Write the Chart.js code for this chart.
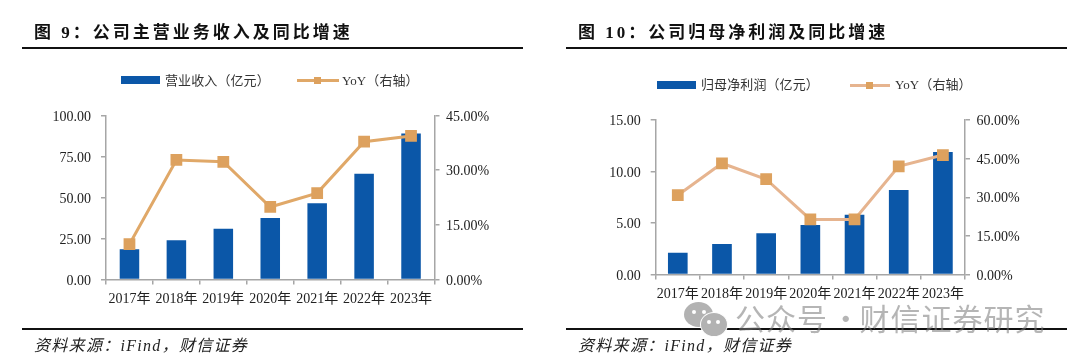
<!DOCTYPE html>
<html lang="zh-CN">
<head>
<meta charset="UTF-8" />
<title>公司营收与归母净利润</title>
<script src="https://cdn.jsdelivr.net/npm/chart.js"></script>
<style>
  html, body { margin: 0; padding: 0; background: #fff; }
  body { width: 1080px; height: 363px; position: relative; overflow: hidden; font-family: "Liberation Serif", "Noto Sans CJK SC", serif; color: #222; }
  canvas { position: absolute; top: 0; }
  .abs { position: absolute; white-space: nowrap; }
  .title { font-weight: 700; font-size: 17px; letter-spacing: 3px; line-height: 20px; color: #111; }
  .rule { height: 2px; background: #111; }
  .source { font-style: italic; font-size: 16px; line-height: 20px; letter-spacing: 1.3px; color: #222; }
  .swatch { height: 8px; background: #0B57A8; }
  .line { height: 3px; }
  .marker { width: 7px; height: 7px; background: #DDA15E; }
  .legend { font-size: 13px; line-height: 16px; letter-spacing: .1px; color: #333; }
  .mark { font-family: "Noto Sans CJK SC", sans-serif; font-size: 30px; line-height: 36px; letter-spacing: 1px; color: rgba(120,120,120,.55); }
  .bubble { background: #B2B2B2; border-radius: 50%; }
  .eye { width: 4px; height: 4px; background: #fff; border-radius: 50%; }
</style>
</head>
<body>
<canvas id="revenueChart" width="540" height="363" style="left:0"></canvas>
<canvas id="profitChart" width="540" height="363" style="left:540px"></canvas>

<div class="abs title" style="left:34px;top:23px">图 9：公司主营业务收入及同比增速</div>
<div class="abs rule" style="left:22px;top:47px;width:501px"></div>
<div class="abs swatch" style="left:121px;top:76px;width:39px"></div>
<div class="abs legend" style="left:165px;top:73px">营业收入（亿元）</div>
<div class="abs line" style="left:297px;top:79px;width:42px;background:#E0A868"></div>
<div class="abs marker" style="left:314px;top:77px"></div>
<div class="abs legend" style="left:342px;top:73px">YoY（右轴）</div>
<div class="abs rule" style="left:22px;top:328px;width:501px"></div>
<div class="abs source" style="left:34px;top:336px">资料来源：iFind，财信证券</div>

<div class="abs title" style="left:578px;top:23px">图 10：公司归母净利润及同比增速</div>
<div class="abs rule" style="left:566px;top:47px;width:501px"></div>
<div class="abs swatch" style="left:657px;top:81px;width:39px"></div>
<div class="abs legend" style="left:701px;top:77px">归母净利润（亿元）</div>
<div class="abs line" style="left:850px;top:84px;width:40px;background:#E6B48F"></div>
<div class="abs marker" style="left:866px;top:82px"></div>
<div class="abs legend" style="left:895px;top:77px">YoY（右轴）</div>
<div class="abs rule" style="left:566px;top:328px;width:501px"></div>
<div class="abs source" style="left:578px;top:336px">资料来源：iFind，财信证券</div>

<div class="abs bubble" style="left:684px;top:302px;width:29px;height:25px"></div>
<div class="abs eye" style="left:692px;top:310px"></div>
<div class="abs eye" style="left:702px;top:310px"></div>
<div class="abs bubble" style="left:700px;top:312px;width:26px;height:23px;border:1px solid #fff"></div>
<div class="abs eye" style="left:707px;top:320px"></div>
<div class="abs eye" style="left:716px;top:320px"></div>
<div class="abs mark" style="left:735px;top:299px">公众号<span style="letter-spacing:-4px"> · </span>财信证券研究</div>

<script>
const years = ['2017年', '2018年', '2019年', '2020年', '2021年', '2022年', '2023年'];

const revenue = [18.5, 24, 31, 37.5, 46.5, 64.5, 89];
const revenueYoy = [9.7, 32.8, 32.3, 19.9, 23.7, 37.8, 39.4];
const revenueTicks = [0, 25, 50, 75, 100];
const revenueYoyTicks = [0, 15, 30, 45];

const profit = [2.1, 2.95, 4.0, 4.8, 5.8, 8.2, 11.9];
const profitYoy = [30.8, 43.2, 37, 21.4, 21.4, 42, 46.4];
const profitTicks = [0, 5, 10, 15];
const profitYoyTicks = [0, 15, 30, 45, 60];

const axisColor = '#A6A6A6';
const tickFont = { family: '"Liberation Serif", "Noto Sans CJK SC", serif', size: 14 };

function makeChart(id, barLabel, bars, yoy, barTicks, yoyTicks, box, lineColor, barShare) {
  const fixedTicks = list => axis => { axis.ticks = list.map(v => ({ value: v })); };
  const axisGrid = { drawOnChartArea: false, color: axisColor, lineWidth: 1.5, tickLength: 5 };
  const border = { color: axisColor, width: 1.5 };

  return new Chart(document.getElementById(id), {
    data: {
      labels: years,
      datasets: [
        { type: 'line', label: 'YoY（右轴）', data: yoy, yAxisID: 'y1', order: 0,
          borderColor: lineColor, borderWidth: 3, tension: 0,
          pointStyle: 'rect', pointRadius: 6.2, pointBackgroundColor: '#DDA15E', pointBorderColor: '#DDA15E' },
        { type: 'bar', label: barLabel, data: bars, yAxisID: 'y', order: 1,
          backgroundColor: '#0B57A8', barPercentage: barShare, categoryPercentage: 1 }
      ]
    },
    options: {
      responsive: false,
      animation: false,
      layout: { padding: { top: box.top, left: 0, right: 0, bottom: 0 } },
      plugins: { legend: { display: false }, tooltip: { enabled: false } },
      scales: {
        x: {
          offset: true,
          grid: { ...axisGrid, offset: true },
          border,
          ticks: { color: '#222', font: tickFont, maxRotation: 0, autoSkip: false, padding: 6 },
          afterFit: axis => { axis.height = box.bottom; }
        },
        y: {
          position: 'left', min: barTicks[0], max: barTicks[barTicks.length - 1],
          grid: axisGrid,
          border,
          afterBuildTicks: fixedTicks(barTicks),
          ticks: { color: '#222', font: tickFont, padding: 10, labelOffset: 1.5, callback: v => v.toFixed(2) },
          afterFit: axis => { axis.width = box.left; }
        },
        y1: {
          position: 'right', min: yoyTicks[0], max: yoyTicks[yoyTicks.length - 1],
          grid: axisGrid,
          border,
          afterBuildTicks: fixedTicks(yoyTicks),
          ticks: { color: '#222', font: tickFont, padding: 6.5, labelOffset: 1.5, callback: v => v.toFixed(2) + '%' },
          afterFit: axis => { axis.width = box.right; }
        }
      }
    }
  });
}

makeChart('revenueChart', '营业收入（亿元）', revenue, revenueYoy, revenueTicks, revenueYoyTicks,
  { top: 115.5, bottom: 83.5, left: 106, right: 105.5 }, '#E0A868', 0.416);
makeChart('profitChart', '归母净利润（亿元）', profit, profitYoy, profitTicks, profitYoyTicks,
  { top: 120, bottom: 88.5, left: 115.7, right: 115 }, '#E6B48F', 0.445);
</script>
</body>
</html>
